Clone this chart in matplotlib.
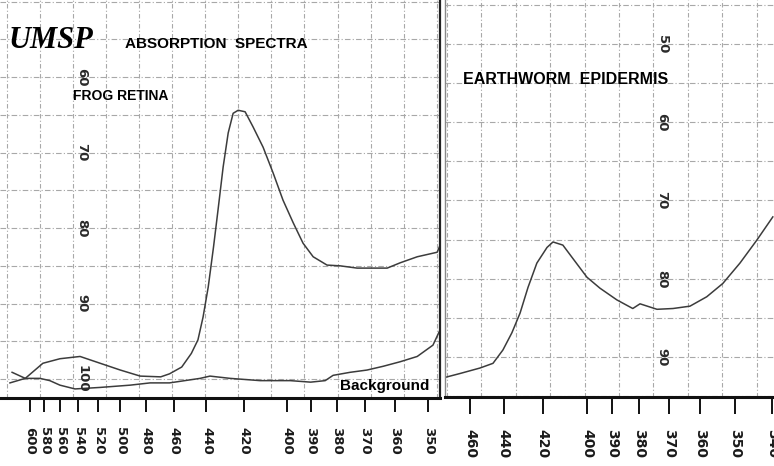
import numpy as np
import matplotlib
matplotlib.use("Agg")
import matplotlib.pyplot as plt
from matplotlib.transforms import blended_transform_factory

W, H = 774, 466

# ---------------- data (wavelength nm, % reading) ----------------
frog_wl = [628, 607, 582, 560.5, 538, 518, 500, 484, 469, 463, 455, 449, 445, 442, 439, 436,
           433.5, 430.7, 428, 425.4, 422.8, 419.3, 415.4, 410.6, 406, 401.6, 397.2, 393.1,
           389, 383.6, 378.7, 372.6, 368.1, 362.5, 358.4, 353.2, 347.4, 346.6]
frog_val = [99.1, 99.9, 97.9, 97.3, 97.0, 97.9, 98.8, 99.6, 99.7, 99.3, 98.4, 96.6, 94.8, 91.8,
            87.8, 82.5, 77.6, 71.9, 67.4, 64.8, 64.4, 64.6, 66.6, 69.3, 72.7, 76.3, 79.3, 82.0,
            83.8, 84.9, 85.0, 85.3, 85.3, 85.3, 84.6, 83.8, 83.2, 82.3]

bg_wl = [631.6, 607, 586, 573, 560.5, 543.4, 518, 492, 476.6, 463, 443.7, 438, 427, 412,
         398.5, 390, 384.3, 381.3, 375.1, 369.2, 363.8, 358.4, 353.2, 348.6, 346.6]
bg_val = [100.5, 99.9, 99.9, 100.2, 100.8, 101.3, 101.1, 100.8, 100.5, 100.5, 99.9, 99.6,
          99.9, 100.2, 100.2, 100.4, 100.2, 99.5, 99.1, 98.8, 98.3, 97.7, 97.0, 95.5, 93.5]

ew_wl = [476.6, 466.4, 453.8, 446.1, 440.5, 435.6, 431.3, 427.2, 422.8, 417.9, 415.1, 410.6,
         406.2, 400.2, 394.9, 388.3, 382.4, 379.8, 373.9, 368.6, 363.2, 358.1, 353.4, 348.6,
         344.1, 339.9]
ew_val = [92.6, 92.1, 91.4, 90.8, 89.1, 86.9, 84.4, 81.1, 78.0, 76.0, 75.3, 75.7, 77.4, 79.8,
          81.2, 82.7, 83.8, 83.2, 83.9, 83.8, 83.5, 82.3, 80.6, 78.0, 75.1, 72.1]

left_ticks = [600, 580, 560, 540, 520, 500, 480, 460, 440, 420, 400, 390, 380, 370, 360, 350]
right_ticks = [460, 440, 420, 400, 390, 380, 370, 360, 350, 340]
left_ylabels = [60, 70, 80, 90, 100]
right_ylabels = [50, 60, 70, 80, 90]


def fwd(x):
    x = np.asarray(x, dtype=float)
    with np.errstate(divide="ignore", invalid="ignore"):
        return -1e6 / np.square(x)


def inv(y):
    y = np.asarray(y, dtype=float)
    with np.errstate(divide="ignore", invalid="ignore"):
        return 1000.0 / np.sqrt(np.abs(y))


fig = plt.figure(figsize=(W / 100, H / 100), dpi=100)
fig.patch.set_facecolor("white")

GRID_C = "#a8a8a8"
CURVE_C = "#3c3c3c"


def rect(x0, y0, x1, y1):
    return [x0 / W, 1 - y1 / H, (x1 - x0) / W, (y1 - y0) / H]


def make_panel(r, xlim, ylim, paper_w, paper_start, paper_step, ticks, tick_len, tick_fs,
               long_len, ylab_x, ylabels):
    paper = fig.add_axes(r, zorder=0)
    paper.set_xticks(np.arange(paper_start, paper_w, paper_step))
    paper.set_yticks([])
    paper.set_xlim(0, paper_w)
    paper.set_ylim(0, 1)
    paper.tick_params(length=0, labelbottom=False, labelleft=False)
    paper.grid(axis="x", color=GRID_C, lw=0.8, ls=(0, (4, 2, 1, 2)))
    for s in paper.spines.values():
        s.set_visible(False)

    ax = fig.add_axes(r, zorder=1)
    ax.set_facecolor("none")
    ax.set_xscale("function", functions=(fwd, inv))
    ax.set_yticks(np.arange(45, 105, 5))
    ax.tick_params(axis="y", length=0, labelleft=False)
    ax.grid(axis="y", color=GRID_C, lw=0.8, ls=(0, (5, 2, 1, 2)))
    ax.set_xticks(ticks)
    ax.set_xticklabels([str(t) for t in ticks], rotation=-90, fontsize=tick_fs,
                       color="#1a1a1a", fontweight="bold")
    ax.set_xticks([420], minor=True)
    ax.set_xlim(*xlim)
    ax.set_ylim(*ylim)
    ax.tick_params(axis="x", which="major", direction="out", length=tick_len, width=1.4,
                   pad=11, color="#111111")
    ax.tick_params(axis="x", which="minor", direction="inout", length=long_len, width=1.5,
                   color="#111111")
    for side in ("top", "left", "right"):
        ax.spines[side].set_visible(False)
    ax.spines["bottom"].set_linewidth(2.2)
    ax.spines["bottom"].set_color("#111111")
    tr = blended_transform_factory(ax.transAxes, ax.transData)
    for v in ylabels:
        ax.text(ylab_x, v, str(v), transform=tr, rotation=-90, ha="center", va="center",
                fontsize=9.5, color="#2a2a2a", fontweight="bold")
    return ax


axL = make_panel(rect(0, 0, 440, 398), (649.3, 346.6), (102.5, 49.8), 440, 6.5, 33.1,
                 left_ticks, 10, 9.5, 23, 82 / 440, left_ylabels)
axR = make_panel(rect(445, 0, 774, 397), (476.6, 339.6), (95.1, 44.4), 329, 2, 34.4,
                 right_ticks, 12, 10, 27, (662 - 445) / 329, right_ylabels)

axL.plot(frog_wl, frog_val, color=CURVE_C, lw=1.1)
axL.plot(bg_wl, bg_val, color=CURVE_C, lw=1.1)
axR.plot(ew_wl, ew_val, color=CURVE_C, lw=1.1)
axL.set_xlim(649.3, 346.6)
axL.set_ylim(102.5, 49.8)
axR.set_xlim(476.6, 339.6)
axR.set_ylim(95.1, 44.4)

# panel borders
axL.spines["right"].set_visible(True)
axL.spines["right"].set_linewidth(1.6)
axL.spines["right"].set_color("#222222")
axR.spines["left"].set_visible(True)
axR.spines["left"].set_linewidth(1.0)
axR.spines["left"].set_color("#888888")


def ftext(x, y, s, **kw):
    fig.text(x / W, 1 - y / H, s, va="center", ha="left", **kw)


ftext(9, 40, "UMSP", family="Liberation Serif", style="italic", weight="bold", fontsize=22)
ftext(125, 44, "ABSORPTION  SPECTRA", family="Liberation Sans", weight="bold", fontsize=11)
ftext(73, 96, "FROG RETINA", family="Liberation Sans", weight="bold", fontsize=10)
ftext(463, 80, "EARTHWORM  EPIDERMIS", family="Liberation Sans", weight="bold", fontsize=11.5)
ftext(340, 386, "Background", family="Liberation Sans", weight="bold", fontsize=11)

fig.savefig("out.png", dpi=100, facecolor="white")
